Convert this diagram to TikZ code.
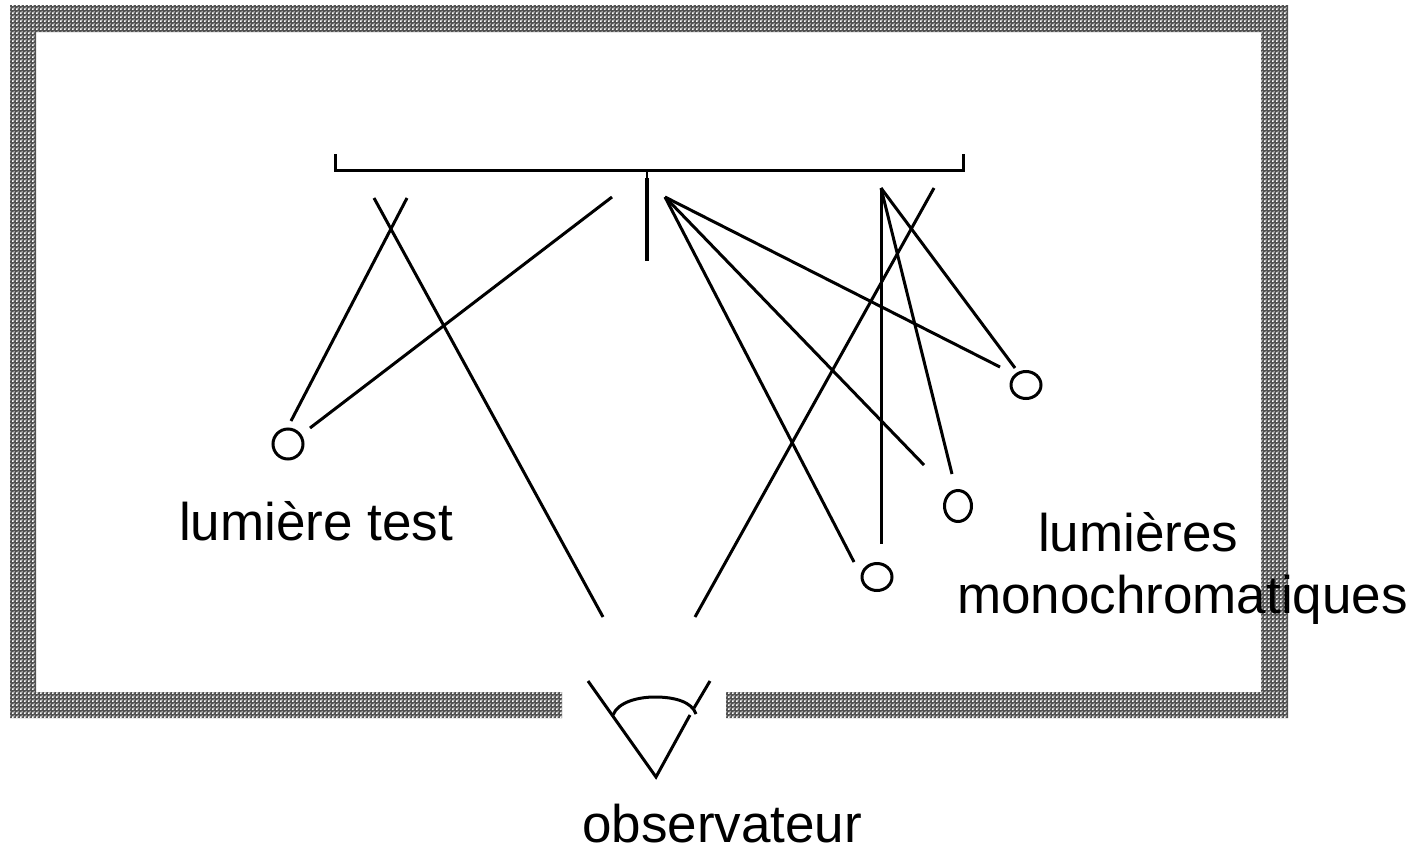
\documentclass[tikz,border=0pt]{standalone}
\usepackage{fontspec}
\setmainfont{Liberation Sans}
\usetikzlibrary{patterns}
\pgfdeclarepatternformonly{wallpat}{\pgfqpoint{0pt}{0pt}}{\pgfqpoint{4pt}{4pt}}{\pgfqpoint{4pt}{4pt}}{%
  \pgfpathrectangle{\pgfqpoint{0pt}{0pt}}{\pgfqpoint{2pt}{2pt}}%
  \pgfpathrectangle{\pgfqpoint{2pt}{2pt}}{\pgfqpoint{1.4pt}{1.4pt}}%
  \pgfusepath{fill}}
\tikzset{
  ray/.style={line width=3pt,black},
  lamp/.style={draw=black,line width=3pt,ellipse,inner sep=0pt,fill=none},
  lbl/.style={inner sep=0pt,anchor=base west,text=black,font=\fontsize{53}{60}\selectfont},
  wall/.style={fill=black!68,postaction={pattern=wallpat,pattern color=white}}
}
\usetikzlibrary{shapes.geometric}
\begin{document}
\begin{tikzpicture}[x=1pt,y=-1pt]
\useasboundingbox (0,0) rectangle (1419,846);
\fill[white] (0,0) rectangle (1419,846);
% wall
\path[wall] (562,718) -- (10,718) -- (10,5) -- (1288,5) -- (1288,718) -- (726,718) -- (726,692) -- (1261,692) -- (1261,32) -- (36,32) -- (36,692) -- (562,692) -- cycle;
% screen
\coordinate (bl) at (335,154); \coordinate (blc) at (335,170);
\coordinate (brc) at (963,170); \coordinate (br) at (963,154);
\draw[line width=3pt,line join=miter] (bl) -- (blc) -- (brc) -- (br);
\coordinate (st) at (647,170); \coordinate (stm) at (647,178); \coordinate (sb) at (647,261);
\draw[line width=2pt] (st) -- (stm);
\draw[line width=4pt] (stm) -- (sb);
% lamps
\node[lamp,minimum width=30pt,minimum height=30pt] (test) at (288,444) {};
\node[lamp,minimum width=30pt,minimum height=27pt] (m1) at (1026,385) {};
\node[lamp,minimum width=27pt,minimum height=31pt] (m2) at (958,506) {};
\node[lamp,minimum width=30pt,minimum height=27pt] (m3) at (877,577) {};
% ray endpoints
\coordinate (a1) at (407,198); \coordinate (a2) at (291,421);
\coordinate (b1) at (374,198); \coordinate (b2) at (603,617);
\coordinate (c1) at (612,197); \coordinate (c2) at (310,428);
\coordinate (p) at (665,197);
\coordinate (p1) at (854,562); \coordinate (p2) at (924,465); \coordinate (p3) at (1000,367);
\coordinate (q) at (881,188);
\coordinate (q1) at (881,544); \coordinate (q2) at (952,474); \coordinate (q3) at (1015,368);
\coordinate (d1) at (934,188); \coordinate (d2) at (695,617);
\draw[ray] (a1) -- (a2);
\draw[ray] (b1) -- (b2);
\draw[ray] (c1) -- (c2);
\draw[ray] (p) -- (p1);
\draw[ray] (p) -- (p2);
\draw[ray] (p) -- (p3);
\draw[ray] (q) -- (q1);
\draw[ray] (q) -- (q2);
\draw[ray] (q) -- (q3);
\draw[ray] (d1) -- (d2);
% eye
\coordinate (e1) at (588,681); \coordinate (e2) at (656,777); \coordinate (e3) at (690,715);
\coordinate (e4) at (694,708); \coordinate (e5) at (710,681);
\coordinate (f1) at (613,715); \coordinate (f2) at (655,697); \coordinate (f3) at (696,714);
\draw[ray,line join=miter] (e1) -- (e2) -- (e3);
\draw[ray] (e4) -- (e5);
\draw[ray] (f1) .. controls (618,702) and (638,697) .. (f2) .. controls (675,697) and (692,702) .. (f3);
% labels
\node[lbl] (t1) at (179,540) {lumière test};
\node[lbl] (t2) at (1038,551) {lumières};
\node[lbl] (t3) at (957,613) {monochromatiques};
\node[lbl] (t4) at (582,842) {observateur};
\end{tikzpicture}
\end{document}
